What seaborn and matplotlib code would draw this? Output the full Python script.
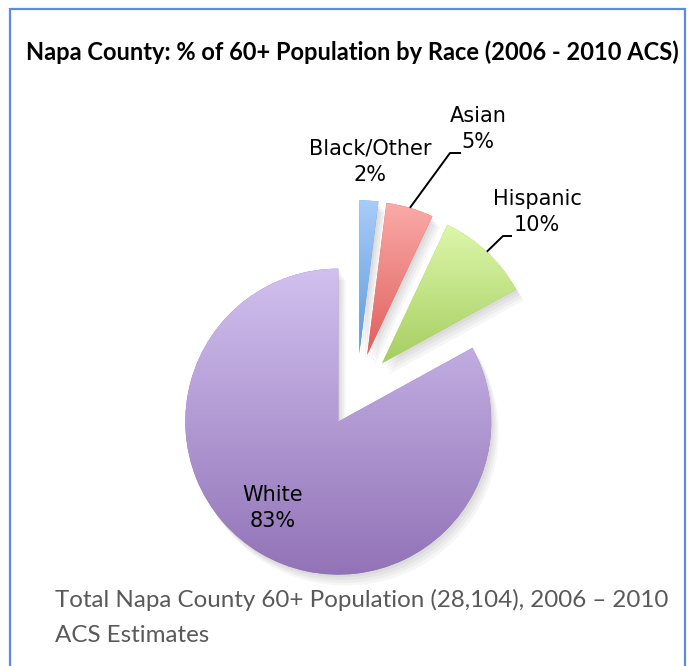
import numpy as np
import matplotlib
matplotlib.use("Agg")
import matplotlib.pyplot as plt
import seaborn as sns
from matplotlib.colors import LinearSegmentedColormap
from matplotlib.patches import Rectangle, Wedge

# ---- data ----
categories = ["White", "Hispanic", "Asian", "Black/Other"]
percents = [83, 10, 5, 2]
title = "Napa County: % of 60+ Population by Race (2006 - 2010 ACS)"
caption_lines = ["Total Napa County 60+ Population (28,104), 2006 \u2013 2010",
                 "ACS Estimates"]
top_colors = ["#D1C0EF", "#DDF7AA", "#FAAAA8", "#A8CCF8"]
bottom_colors = ["#9273B7", "#A6CE60", "#DF605C", "#5D9BE0"]

sns.set_theme(style="white")
plt.rcParams["font.family"] = ["Lato", "DejaVu Sans"]

W, H = 691, 666
fig = plt.figure(figsize=(W / 100, H / 100), dpi=100)
fig.patch.set_facecolor("white")
ax = fig.add_axes([0, 0, 1, 1])

R = 153.0           # pixels per data unit (pie radius)
cx, cy = 357, 390   # pie centre in pixels (from top-left)

wedges, _ = ax.pie(percents, explode=[0.24] * len(percents), startangle=90,
                   counterclock=True, radius=1,
                   wedgeprops=dict(linewidth=0))

# soft shadow + gradient fill
for w, c0, c1 in zip(wedges, top_colors, bottom_colors):
    w.set_facecolor(c1)
    w.set_zorder(2)
    bb = w.get_path().get_extents()
    cmap = LinearSegmentedColormap.from_list("g", [c0, c1])
    grad = np.linspace(0, 1, 256).reshape(-1, 1)
    im = ax.imshow(grad, cmap=cmap, extent=(bb.x0, bb.x1, bb.y0, bb.y1),
                   origin="upper", aspect="auto", zorder=3, interpolation="bilinear")
    im.set_clip_path(w)
    for k in range(4):
        sh = Wedge((w.center[0] + 0.012 * (k + 1), w.center[1] - 0.018 * (k + 1)),
                   w.r, w.theta1, w.theta2, facecolor="#000000", alpha=0.035,
                   linewidth=0, zorder=1)
        ax.add_patch(sh)

ax.set_aspect("auto")
ax.set_xlim(-cx / R, (W - cx) / R)
ax.set_ylim(-(H - cy) / R, cy / R)
ax.axis("off")


def px(x, y):
    return ((x - cx) / R, (cy - y) / R)


lab_fs = 15
lab_font = ["DejaVu Sans"]
for (x, y), t in [((273, 508), "White\n83%"), ((537, 212), "Hispanic\n10%"),
                  ((478, 129), "Asian\n5%"), ((370, 162), "Black/Other\n2%")]:
    ax.text(*px(x, y), t, ha="center", va="center", fontsize=lab_fs,
            family=lab_font, color="black", zorder=5, linespacing=1.4)


# leader lines from each wedge's outer mid-point
def outer_mid(w):
    a = np.deg2rad((w.theta1 + w.theta2) / 2)
    return (w.center[0] + w.r * np.cos(a), w.center[1] + w.r * np.sin(a))

for w, elbow, end in [(wedges[2], px(450, 153), px(461, 153)),
                      (wedges[1], px(503, 236), px(512, 236))]:
    sx, sy = outer_mid(w)
    ax.plot([sx, elbow[0], end[0]], [sy, elbow[1], end[1]], color="black",
            lw=1.4, zorder=5, solid_capstyle="butt")

fig.text(352 / W, 1 - 52 / H, title, ha="center", va="center", fontsize=17,
         fontweight="bold", color="black")
fig.text(55 / W, 1 - 600 / H, caption_lines[0], ha="left", va="center",
         fontsize=17.4, color="#595959")
fig.text(55 / W, 1 - 636 / H, caption_lines[1], ha="left", va="center",
         fontsize=17.4, color="#595959")

fig.patches.append(Rectangle((10 / W, -0.1), (685 - 10) / W, 1 - 9 / H + 0.1,
                             transform=fig.transFigure, fill=False,
                             edgecolor="#5A8BEA", linewidth=1.6))

fig.savefig("out.png", dpi=100, facecolor="white")
